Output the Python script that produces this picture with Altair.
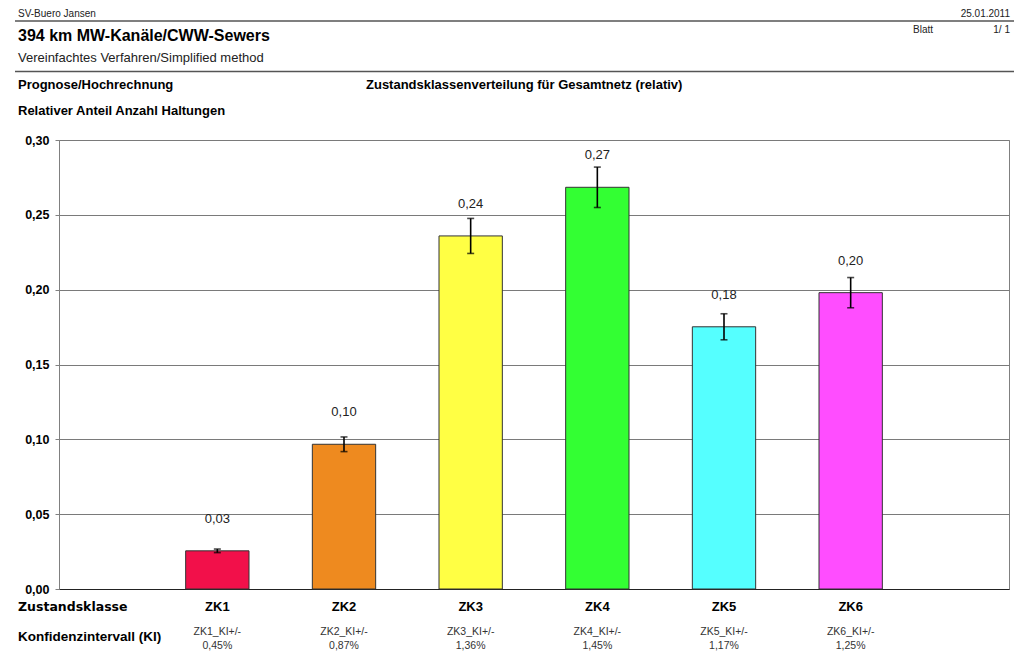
import altair as alt
import pandas as pd

FONT = "Liberation Sans"

categories = ["ZK1", "ZK2", "ZK3", "ZK4", "ZK5", "ZK6"]
values = [0.0255, 0.0967, 0.2359, 0.2684, 0.1752, 0.1980]
errors = [0.0012, 0.0049, 0.0117, 0.0135, 0.0087, 0.0101]
ki_text = ["0,45%", "0,87%", "1,36%", "1,45%", "1,17%", "1,25%"]
colors = ["#F2104A", "#EE8A1F", "#FFFF44", "#33FF33", "#55FFFF", "#FF4DFF"]
y_ticks = [0.0, 0.05, 0.10, 0.15, 0.20, 0.25, 0.30]

df = pd.DataFrame({
    "zk": categories,
    "value": values,
    "lo": [v - e for v, e in zip(values, errors)],
    "hi": [v + e for v, e in zip(values, errors)],
    "label": [f"{v:.2f}".replace(".", ",") for v in values],
    "ki": [f"{c}_KI+/-\n{k}" for c, k in zip(categories, ki_text)],
})

xscale = alt.Scale(domain=categories, paddingInner=0.5, paddingOuter=1.0)
yscale = alt.Scale(domain=[0, 0.30], nice=False)

x_enc = alt.X("zk:N", scale=xscale, sort=categories,
              axis=alt.Axis(title=None, ticks=False, labelPadding=11, labelAngle=0,
                            labelFontWeight="bold", labelFontSize=13, labelColor="#000",
                            labelFont=FONT, domainColor="#222", domainWidth=1))

base = alt.Chart(df)

bars = base.mark_bar(stroke="#333", strokeWidth=1).encode(
    x=x_enc,
    y=alt.Y("value:Q", scale=yscale,
            axis=alt.Axis(title=None, values=y_ticks, grid=True, gridColor="#7a7a7a",
                          domainColor="#808080", tickColor="#808080", tickSize=4,
                          labelPadding=6, labelFontWeight="bold", labelFontSize=12.5,
                          labelColor="#000", labelFont=FONT,
                          labelExpr="replace(format(datum.value, '.2f'), '.', ',')")),
    color=alt.Color("zk:N", scale=alt.Scale(domain=categories, range=colors), legend=None),
)

err_rule = base.mark_rule(color="#000", strokeWidth=1.6).encode(
    x=alt.X("zk:N", scale=xscale, sort=categories),
    y=alt.Y("lo:Q", scale=yscale),
    y2="hi:Q",
)
cap_lo = base.mark_tick(color="#000", size=7, thickness=1.6).encode(
    x=alt.X("zk:N", scale=xscale, sort=categories),
    y=alt.Y("lo:Q", scale=yscale),
)
cap_hi = base.mark_tick(color="#000", size=7, thickness=1.6).encode(
    x=alt.X("zk:N", scale=xscale, sort=categories),
    y=alt.Y("hi:Q", scale=yscale),
)

value_labels = base.mark_text(font=FONT, fontSize=13, color="#222", dy=-32, baseline="middle").encode(
    x=alt.X("zk:N", scale=xscale, sort=categories),
    y=alt.Y("value:Q", scale=yscale),
    text="label:N",
)

ki_labels = base.mark_text(font=FONT, fontSize=10.5, color="#333", baseline="top",
                           lineBreak="\n", lineHeight=14).encode(
    x=alt.X("zk:N", scale=xscale, sort=categories),
    y=alt.value(487),
    text="ki:N",
)

one = alt.Data(values=[{}])


def txt(s, x, y, size=12, weight="normal", align="left", color="#000", font=FONT):
    return alt.Chart(one).mark_text(text=s, font=font, fontSize=size, fontWeight=weight,
                                    align=align, baseline="middle", color=color).encode(
        x=alt.value(x), y=alt.value(y))


def hline(y):
    return alt.Chart(one).mark_rule(color="#555", strokeWidth=1.5).encode(
        x=alt.value(-44), x2=alt.value(955), y=alt.value(y))


texts = [
    txt("SV-Buero Jansen", -41, -126, size=10, color="#222"),
    txt("25.01.2011", 951, -126, size=10, align="right", color="#222"),
    hline(-119),
    txt("394 km MW-Kanäle/CWW-Sewers", -41, -104, size=16, weight="bold"),
    txt("Blatt", 854, -110, size=10, color="#222"),
    txt("1/  1", 951, -110, size=10, align="right", color="#222"),
    txt("Vereinfachtes Verfahren/Simplified method", -41, -82, size=13, color="#222"),
    hline(-68.5),
    txt("Prognose/Hochrechnung", -41, -55, size=13, weight="bold"),
    txt("Zustandsklassenverteilung für Gesamtnetz (relativ)", 307, -55, size=13, weight="bold"),
    txt("Relativer Anteil Anzahl Haltungen", -41, -29, size=13, weight="bold"),
    txt("Zustandsklasse", -41, 467, size=12.5, weight="bold", font="DejaVu Sans"),
    txt("Konfidenzintervall (KI)", -41, 497, size=13.5, weight="bold"),
]

chart = alt.layer(bars, err_rule, cap_lo, cap_hi, value_labels, ki_labels, *texts).properties(
    width=950,
    height=449,
    autosize=alt.AutoSizeParams(type="none"),
    padding={"left": 51, "top": 132, "right": 7, "bottom": 73},
    background="white",
).configure_view(stroke="#808080", strokeWidth=1)

chart.save("out.html", embed_options={"renderer": "svg", "actions": False})
